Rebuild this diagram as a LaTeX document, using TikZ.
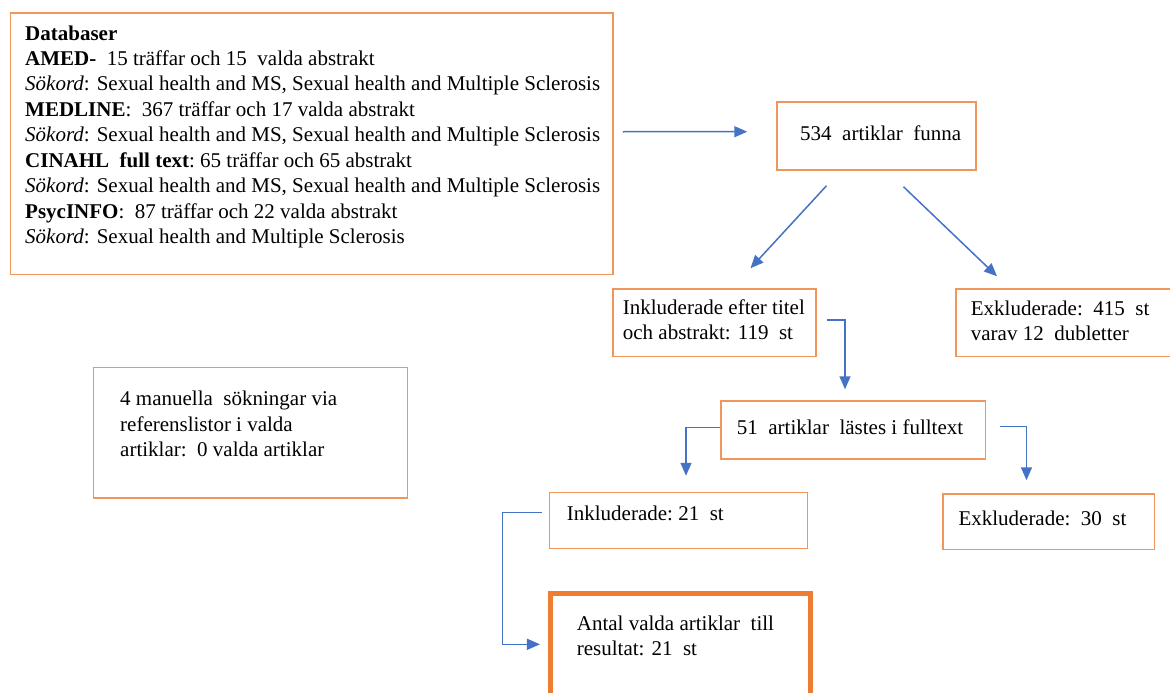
\documentclass[tikz,border=0pt]{standalone}
\usepackage{fontspec}
\setmainfont{Liberation Serif}
\usetikzlibrary{arrows.meta,calc}
\definecolor{boxor}{RGB}{240,150,90}
\definecolor{thickor}{RGB}{237,125,49}
\definecolor{arrblue}{RGB}{68,114,196}
\begin{document}
\begin{tikzpicture}[x=1pt,y=-1pt,
  box/.style={draw=boxor, line width=1.5pt, inner sep=0pt, rectangle},
  thickbox/.style={draw=thickor, line width=4.6pt, inner sep=0pt, rectangle},
  arr/.style={draw=arrblue, line width=1.5pt, -{Triangle[length=13pt,width=11pt]}},
  txt/.style={anchor=base west, inner sep=0pt, font=\fontsize{21}{25}\selectfont, text=black}]
\useasboundingbox[fill=white] (0,0) rectangle (1170,693);
\begin{scope}
\clip (0,0) rectangle (1170,693);
% boxes
\node[box, minimum width=602.5pt, minimum height=261.5pt] (db) at (311.75,143.75) {};
\node[box, minimum width=199pt, minimum height=68pt] (n534) at (876.5,136) {};
\node[box, minimum width=203pt, minimum height=67.5pt] (incA) at (714.5,322.75) {};
\node[box, minimum width=224pt, minimum height=67.5pt] (excA) at (1068,322.75) {};
\node[box, minimum width=314pt, minimum height=130.5pt] (man) at (250.5,432.75) {};
\node[box, minimum width=264.5pt, minimum height=58pt] (n51) at (853.25,430) {};
\node[box, minimum width=258pt, minimum height=56pt] (incB) at (678.5,520.5) {};
\node[box, minimum width=211.5pt, minimum height=55.5pt] (excB) at (1048.75,521.75) {};
\node[thickbox, minimum width=260.3pt, minimum height=113pt] (res) at (680.6,650) {};
\end{scope}
% texts
\node[txt] (t1) at (25,40.7) {\textbf{Databaser}};
\node[txt] (t2) at (25,65.3) {\textbf{AMED-}\ \ 15 träffar och 15\ \ valda abstrakt};
\node[txt] (t3) at (25,90.7) {\textit{Sökord}: Sexual health and MS, Sexual health and Multiple Sclerosis};
\node[txt] (t4) at (25,116.7) {\textbf{MEDLINE}:\ \ 367 träffar och 17 valda abstrakt};
\node[txt] (t5) at (25,141.7) {\textit{Sökord}: Sexual health and MS, Sexual health and Multiple Sclerosis};
\node[txt] (t6) at (25,167.3) {\textbf{CINAHL\ \ full text}:\ 65 träffar och 65\ abstrakt};
\node[txt] (t7) at (25,192.7) {\textit{Sökord}: Sexual health and MS, Sexual health and Multiple Sclerosis};
\node[txt] (t8) at (25,218.3) {\textbf{PsycINFO}:\ \ 87 träffar och 22 valda abstrakt};
\node[txt] (t9) at (25,243.3) {\textit{Sökord}: Sexual health and Multiple Sclerosis};
\node[txt] (u1) at (800,140.7) {534\ \ artiklar\ \ funna};
\node[txt] (u2) at (622.7,314) {Inkluderade efter titel};
\node[txt] (u3) at (622.7,339.3) {och abstrakt: 119\ \ st};
\node[txt] (u4) at (970.7,315.7) {Exkluderade:\ \ 415\ \ st};
\node[txt] (u5) at (970.7,340.7) {varav 12\ \ dubletter};
\node[txt] (m1) at (120,405.7) {4 manuella\ \ sökningar via};
\node[txt] (m2) at (120,431) {referenslistor i valda};
\node[txt] (m3) at (120,456) {artiklar:\ \ 0 valda artiklar};
\node[txt] (u6) at (736.7,434) {51\ \ artiklar\ \ lästes i fulltext};
\node[txt] (u7) at (566.7,520) {Inkluderade:\ 21\ \ st};
\node[txt] (u8) at (958.3,525) {Exkluderade:\ \ 30\ \ st};
\node[txt] (u9) at (576.7,630) {Antal valda artiklar\ \ till};
\node[txt] (u10) at (576.7,655) {resultat: 21\ \ st};
% connectors
\draw[arr] ([xshift=9pt,yshift=12pt]db.east) -- ([xshift=-29pt,yshift=4.3pt]n534.west);
\draw[arr] ([xshift=-50pt,yshift=-15pt]n534.south) -- ([xshift=36pt,yshift=20pt]incA.north);
\draw[arr] ([xshift=27pt,yshift=-16pt]n534.south) -- ([xshift=-71pt,yshift=12pt]excA.north);
\draw[arr] ([xshift=10.5pt,yshift=2.75pt]incA.east) -| ([xshift=-8.25pt,yshift=11pt]n51.north);
\draw[arr] ([yshift=2.7pt]n51.west) -| ([xshift=7.5pt,yshift=16pt]incB.north);
\draw[arr] ([xshift=14pt,yshift=3.3pt]n51.east) -| ([xshift=-22.25pt,yshift=13pt]excB.north);
\draw[arr] ([xshift=-7pt,yshift=7.8pt]incB.west) -- ++(-39.4,0) |- ([xshift=-8.2pt,yshift=5.7pt]res.west);
\end{tikzpicture}
\end{document}
